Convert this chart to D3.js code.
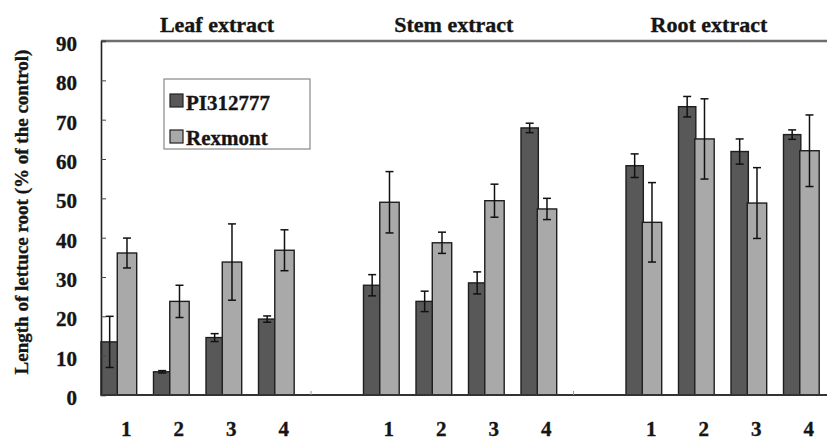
<!DOCTYPE html>
<html><head><meta charset="utf-8">
<script src="https://cdn.jsdelivr.net/npm/d3@7/dist/d3.min.js"></script>
<style>body{margin:0;background:#fff}svg{display:block}text{font-family:"Liberation Serif","DejaVu Serif",serif;font-weight:bold;fill:#151515;stroke:#151515;stroke-width:0.35px}</style>
</head><body><svg id="c" width="827" height="440"></svg>
<script>
const groups = ["Leaf extract","Stem extract","Root extract"];
const treatments = ["1","2","3","4"];
const series = ["PI312777","Rexmont"];
const pi312777 = [13.5,5.9,14.6,19.3, 27.9,23.8,28.5,67.9, 58.3,73.3,61.9,66.2];
const pi312777Err = [6.5,0.3,1.0,0.8, 2.7,2.6,2.8,1.2, 3.0,2.6,3.2,1.2];
const rexmont = [36.1,23.8,33.8,36.8, 49.0,38.7,49.4,47.3, 43.9,65.1,48.8,62.1];
const rexmontErr = [3.8,4.1,9.7,5.2, 7.8,2.7,4.2,2.7, 10.1,10.2,9.0,9.1];
const yTicks = [0,10,20,30,40,50,60,70,80,90];

(function(){
const svg = d3.select("#c");
const slots = [];
groups.forEach((g,gi)=>{ treatments.forEach(t=>slots.push(g+"|"+t)); if(gi<groups.length-1) slots.push("gap"+gi); });
const mLeft=101, mTop=41, mBottom=395;
const x = d3.scaleBand().domain(slots).range([mLeft, mLeft+slots.length*52.5]).padding(0);
const y = d3.scaleLinear().domain([0,90]).range([mBottom, mTop]);

const rows = [];
groups.forEach((g,gi)=>treatments.forEach((t,ti)=>{ const i=gi*4+ti; rows.push({key:g+"|"+t,t, a:pi312777[i], ae:pi312777Err[i], b:rexmont[i], be:rexmontErr[i]}); }));

const bw = x.bandwidth();
const dW = bw*0.33, lW = bw*0.37, lOff = bw*0.31;

svg.append("line").attr("x1",mLeft).attr("x2",827).attr("y1",mTop).attr("y2",mTop).attr("stroke","#6e6e6e").attr("stroke-width",2.4);

const g = svg.append("g");
g.selectAll("rect.a").data(rows).join("rect").attr("class","a")
 .attr("x",d=>x(d.key)).attr("width",dW).attr("y",d=>y(d.a)).attr("height",d=>y(0)-y(d.a))
 .attr("fill","#585858").attr("stroke","#1e1e1e").attr("stroke-width",1.4);
function err(sel, cls, cxf, vf, ef){
  const e = sel.selectAll("g."+cls).data(rows).join("g").attr("class",cls).attr("stroke","#111").attr("stroke-width",1.5);
  e.append("line").attr("x1",cxf).attr("x2",cxf).attr("y1",d=>y(vf(d)+ef(d))).attr("y2",d=>y(vf(d)-ef(d)));
  e.append("line").attr("x1",d=>cxf(d)-4).attr("x2",d=>cxf(d)+4).attr("y1",d=>y(vf(d)+ef(d))).attr("y2",d=>y(vf(d)+ef(d)));
  e.append("line").attr("x1",d=>cxf(d)-4).attr("x2",d=>cxf(d)+4).attr("y1",d=>y(vf(d)-ef(d))).attr("y2",d=>y(vf(d)-ef(d)));
}
err(g,"ea",d=>x(d.key)+dW/2,d=>d.a,d=>d.ae);
g.selectAll("rect.b").data(rows).join("rect").attr("class","b")
 .attr("x",d=>x(d.key)+lOff).attr("width",lW).attr("y",d=>y(d.b)).attr("height",d=>y(0)-y(d.b))
 .attr("fill","#a9a9a9").attr("stroke","#1e1e1e").attr("stroke-width",1.4);
err(g,"eb",d=>x(d.key)+lOff+lW/2,d=>d.b,d=>d.be);

const yAxis = d3.axisLeft(y).tickValues(yTicks).tickSize(-5).tickFormat(d3.format("d"));
const ya = svg.append("g").attr("transform",`translate(${mLeft},0)`).call(yAxis);
ya.select(".domain").attr("stroke","#222").attr("stroke-width",1.6);
ya.selectAll(".tick line").attr("stroke","#444");
ya.selectAll(".tick text").attr("font-size",21).attr("dy","0.45em").attr("x",-24).attr("fill","#151515");
ya.attr("font-family",null).attr("font-size",null);

svg.append("line").attr("x1",mLeft).attr("x2",827).attr("y1",mBottom).attr("y2",mBottom).attr("stroke","#333").attr("stroke-width",1.8);
svg.append("g").selectAll("line").data(slots.filter(s=>s.startsWith("gap"))).join("line")
 .attr("x1",d=>x(d)).attr("x2",d=>x(d)).attr("y1",mBottom).attr("y2",mBottom-4).attr("stroke","#999");

svg.append("g").selectAll("text").data(rows).join("text")
 .attr("x",d=>x(d.key)+bw/2-1).attr("y",436).attr("text-anchor","middle").attr("font-size",21).text(d=>d.t);

const titleOffsetSlots = [2.21,1.72,1.58];
svg.append("g").selectAll("text").data(groups).join("text")
 .attr("x",(d,i)=>x(d+"|1")+titleOffsetSlots[i]*bw).attr("y",32).attr("text-anchor","middle").attr("font-size",22).text(d=>d);

svg.append("text").attr("transform","translate(28,212) rotate(-90)").attr("text-anchor","middle").attr("font-size",19).text("Length of lettuce root (% of the control)");

const lg = svg.append("g").attr("transform","translate(164,79)");
lg.append("rect").attr("width",146).attr("height",70).attr("fill","#fff").attr("stroke","#888").attr("stroke-width",1.2);
const cols = ["#585858","#a9a9a9"];
series.forEach((s,i)=>{
  lg.append("rect").attr("x",6).attr("y",15+i*36).attr("width",13).attr("height",13).attr("fill",cols[i]).attr("stroke","#222").attr("stroke-width",1.2);
  lg.append("text").attr("x",22).attr("y",31+i*35).attr("font-size",21).text(s);
});
})();
</script></body></html>
